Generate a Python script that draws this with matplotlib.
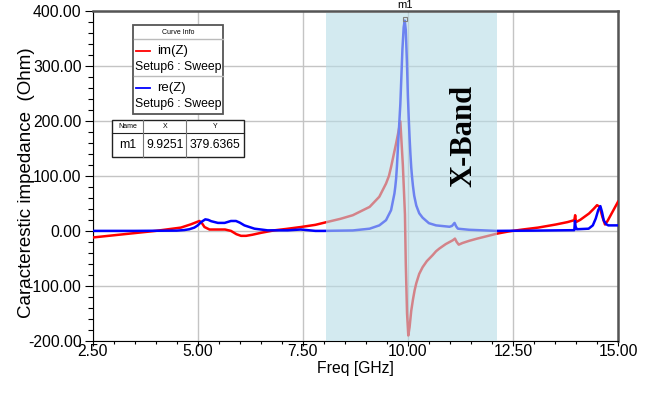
import matplotlib
matplotlib.use("Agg")
import matplotlib.pyplot as plt
from matplotlib.patches import Rectangle
from matplotlib.lines import Line2D
from matplotlib.ticker import MultipleLocator

# im(Z) (rojo)
freq_im = [2.5, 3.0, 3.5, 4.0, 4.3, 4.6, 4.84, 5.04, 5.10, 5.16, 5.28, 5.5, 5.65, 5.79, 5.92,
           6.03, 6.15, 6.3, 6.5, 6.82, 7.1, 7.45, 7.8, 8.07, 8.4, 8.69, 9.09, 9.32, 9.48, 9.55,
           9.6, 9.65, 9.72, 9.77, 9.82, 9.88, 9.93, 9.95, 9.98, 10.01, 10.04, 10.08, 10.12,
           10.16, 10.2, 10.27, 10.35, 10.45, 10.59, 10.67, 10.75, 10.9, 11.07, 11.12, 11.16,
           11.21, 11.3, 11.46, 11.65, 11.86, 12.12, 12.4, 12.73, 13.1, 13.52, 13.8, 13.96,
           13.98, 14.0, 14.1, 14.31, 14.42, 14.5, 14.56, 14.63, 14.69, 14.75, 14.85, 15.0]
im_z = [-12, -8, -4, 0, 3, 6, 12, 18, 14, 7, 2.5, 2.5, 2.5, 0, -6,
        -9, -9, -7, -3.6, 1, 3.5, 7, 11, 16, 22, 28.5, 43.6, 62, 86, 100,
        116, 134, 159, 178, 199, 120, 30, -60, -150, -190, -175, -145, -125,
        -108, -95, -78, -66, -55, -44, -37, -32, -24, -17, -14, -20,
        -25, -22, -18, -14, -10, -5, -1, 2.5, 6, 11.6, 16, 19.5,
        28.5, 16, 20, 31.6, 40, 46.7, 44, 25, 11.6, 18, 32, 53]

# re(Z) (azul)
freq_re = [2.5, 3.5, 4.5, 4.68, 4.8, 4.92, 5.0, 5.08, 5.18, 5.25, 5.32, 5.48, 5.64, 5.79, 5.91,
           6.0, 6.11, 6.35, 6.66, 7.14, 7.45, 7.8, 8.0, 8.69, 9.09, 9.32, 9.48, 9.6, 9.68,
           9.70, 9.72, 9.74, 9.76, 9.78, 9.82, 9.87, 9.90, 9.925, 9.95, 9.98, 10.0, 10.02,
           10.04, 10.06, 10.08, 10.10, 10.12, 10.15, 10.2, 10.27, 10.35, 10.5, 10.67, 10.99,
           11.05, 11.11, 11.15, 11.19, 11.46, 12.1, 13.0, 13.96, 13.975, 13.99, 14.02, 14.3,
           14.4, 14.47, 14.53, 14.58, 14.62, 14.66, 14.72, 14.77, 15.0]
re_z = [0, 0, 0.5, 1.5, 3, 6, 10, 16, 21, 20, 17.6, 14.5, 14.5, 18, 18,
        15, 10, 4, 1, 1, 2.5, 0, 0, 0.8, 4, 10, 19.5, 37.6, 68,
        80, 95, 118, 147, 175, 230, 330, 370, 382, 365, 300, 245, 205,
        170, 140, 115, 97, 82, 64, 46, 32, 24, 14, 10, 7.5,
        9, 14.5, 8, 4, 2, 0, 0.5, 1.3, 18, 8, 3, 4,
        10, 22.5, 38, 45, 34, 19, 12, 10, 10]

m1_x, m1_y = 9.9251, 379.6365
band = (8.06, 12.12)

sans = ['Liberation Sans', 'DejaVu Sans']

fig = plt.figure(figsize=(6.54, 3.99), dpi=100)
ax = fig.add_axes([0.1417, 0.1454, 0.8033, 0.8278])

ax.plot(freq_im, im_z, color='#ff0000', lw=1.8, zorder=3)
ax.plot(freq_re, re_z, color='#0000ff', lw=1.8, zorder=3)

# banda X (encima de las curvas, semitransparente)
ax.add_patch(Rectangle((band[0], -200), band[1] - band[0], 595,
                       facecolor=(183/255, 220/255, 230/255), alpha=0.6,
                       edgecolor='none', zorder=4))
ax.text(11.34, 172, 'X-Band', rotation=90, ha='center', va='center',
        fontsize=22, fontweight='bold', family=['Liberation Serif', 'DejaVu Serif'], zorder=6)

# marcador m1
ax.plot([m1_x], [m1_y + 5], marker='s', ms=3, mfc='none', mec='#808080', mew=0.8,
        zorder=6, clip_on=False)
ax.text(m1_x, 401, 'm1', ha='center', va='bottom', fontsize=8, family=sans,
        zorder=6, clip_on=False)

ax.set_xlim(2.5, 15)
ax.set_ylim(-200, 400)
ax.xaxis.set_major_locator(MultipleLocator(2.5))
ax.xaxis.set_minor_locator(MultipleLocator(0.5))
ax.yaxis.set_major_locator(MultipleLocator(100))
ax.yaxis.set_minor_locator(MultipleLocator(20))
ax.xaxis.set_major_formatter(lambda v, p: f"{v:.2f}")
ax.yaxis.set_major_formatter(lambda v, p: f"{v:.2f}")
ax.grid(True, which='major', color='#c4c4c4', lw=1.0, zorder=1)
ax.set_axisbelow(True)

ax.tick_params(axis='y', which='major', direction='out', length=6, width=0.8, pad=2)
ax.tick_params(axis='y', which='minor', direction='out', length=3.5, width=0.8)
ax.tick_params(axis='x', which='major', direction='out', length=3.5, width=0.8, pad=-1)
ax.tick_params(axis='x', which='minor', direction='out', length=2, width=0.8)
for lab in ax.get_xticklabels() + ax.get_yticklabels():
    lab.set_family(sans)
    lab.set_fontsize(11.3)

for s in ['left', 'bottom']:
    ax.spines[s].set_color('black')
    ax.spines[s].set_linewidth(0.8)
for s in ['top', 'right']:
    ax.spines[s].set_color('#555555')
    ax.spines[s].set_linewidth(1.8)

ax.set_xlabel('Freq [GHz]', family=sans, fontsize=11.3, labelpad=1)
ax.set_ylabel('Caracterestic impedance  (Ohm)', family=sans, fontsize=13.5)
ax.yaxis.set_label_coords(-0.11, 0.479)

# cuadro "Curve Info" (en pixeles de la figura)
W, H = 654, 399
def fx(x):
    return x / W
def fy(y):
    return 1 - y / H

fig.add_artist(Rectangle((fx(133.3), fy(114.3)), (223.3 - 133.3) / W, (114.3 - 25) / H,
                         transform=fig.transFigure, facecolor='white', edgecolor='#555555',
                         lw=1.3, zorder=10))
for yy in [39.3, 76]:
    fig.add_artist(Line2D([fx(134), fx(222.6)], [fy(yy), fy(yy)], color='#bbbbbb', lw=1,
                          transform=fig.transFigure, zorder=11))
fig.text(fx(178.3), fy(32.3), 'Curve Info', ha='center', va='center', fontsize=5,
         family=sans, zorder=12)
curves = [('im(Z)', '#ff0000', 50.7), ('re(Z)', '#0000ff', 87.7)]
for name, col, yy in curves:
    fig.add_artist(Line2D([fx(135.5), fx(149.5)], [fy(yy), fy(yy)], color=col, lw=1.3,
                          transform=fig.transFigure, zorder=12))
    fig.text(fx(157), fy(yy), name, ha='left', va='center', fontsize=9.5, family=sans, zorder=12)
    fig.text(fx(135), fy(yy + 16), 'Setup6 : Sweep', ha='left', va='center', fontsize=8.8,
             family=sans, zorder=12)

# tabla del marcador
fig.add_artist(Rectangle((fx(111.7), fy(157.3)), (244 - 111.7) / W, (157.3 - 120) / H,
                         transform=fig.transFigure, facecolor='white', edgecolor='#222222',
                         lw=1.0, zorder=10))
fig.add_artist(Line2D([fx(111.7), fx(244)], [fy(132.7), fy(132.7)], color='#222222', lw=0.8,
                      transform=fig.transFigure, zorder=11))
for xx in [143.3, 186]:
    fig.add_artist(Line2D([fx(xx), fx(xx)], [fy(120), fy(157.3)], color='#777777', lw=0.8,
                          transform=fig.transFigure, zorder=11))
headers = ['Name', 'X', 'Y']
row = ['m1', f"{m1_x:.4f}", f"{m1_y:.4f}"]
col_x = [127.5, 164.7, 215]
for cx, h, r in zip(col_x, headers, row):
    fig.text(fx(cx), fy(126.5), h, ha='center', va='center', fontsize=5, family=sans, zorder=12)
    fig.text(fx(cx), fy(145.5), r, ha='center', va='center', fontsize=8.8, family=sans, zorder=12)

fig.savefig('out.png', dpi=100)
